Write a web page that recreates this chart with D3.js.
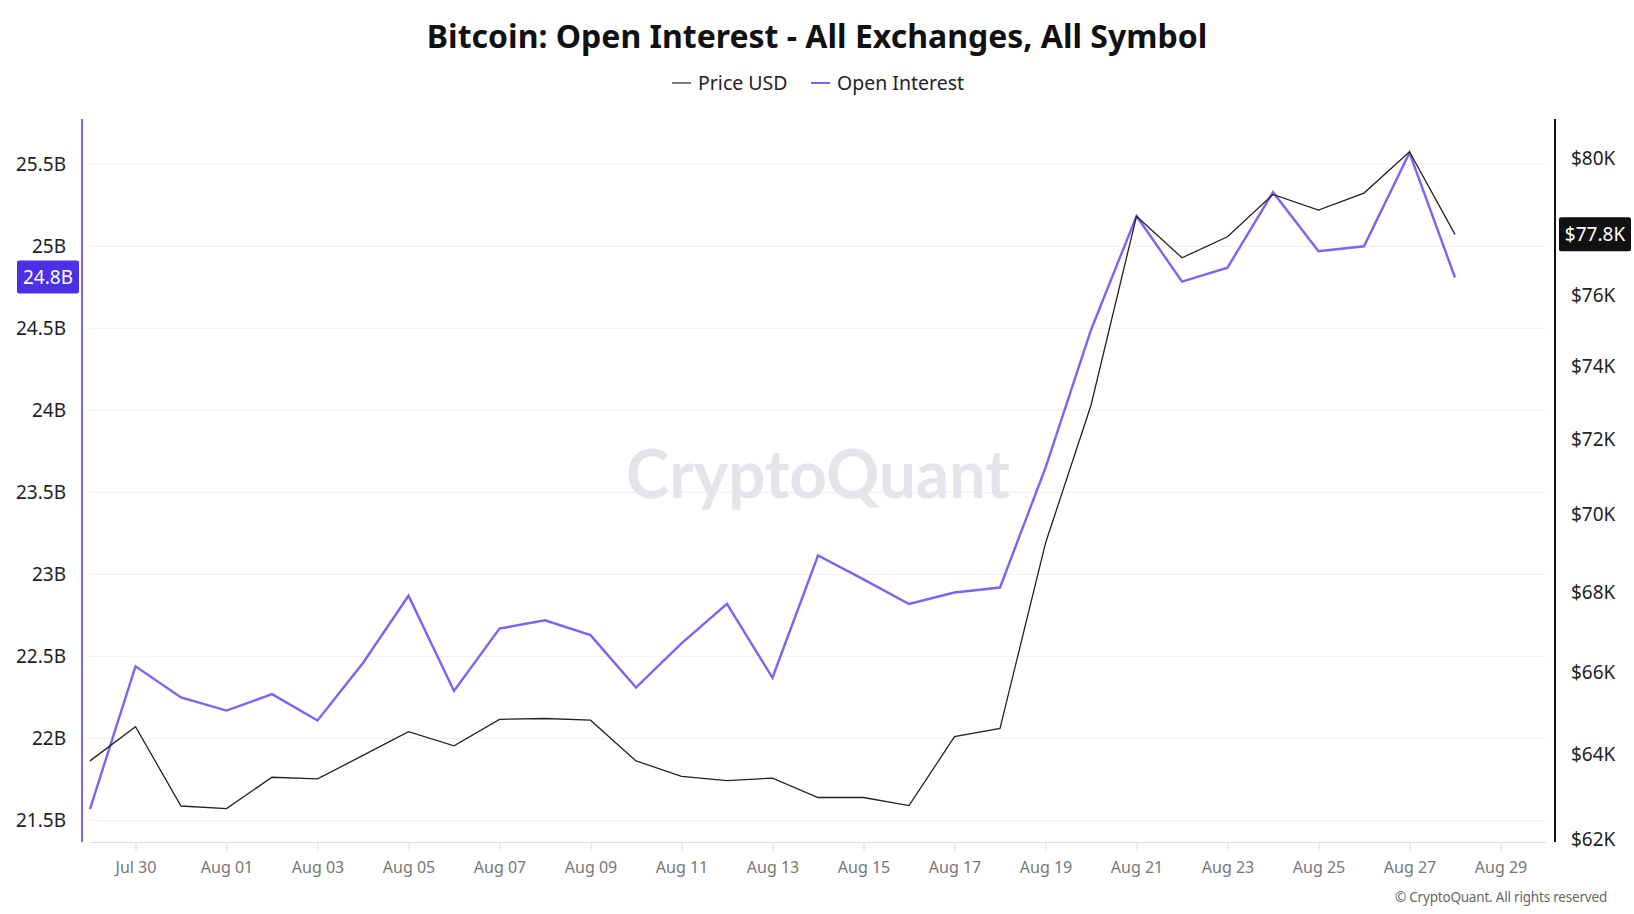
<!DOCTYPE html>
<html>
<head>
<meta charset="utf-8">
<script src="https://cdn.jsdelivr.net/npm/d3@7"></script>
<style>
  body { margin: 0; background: #fff; }
  svg { display: block; font-family: "Noto Sans", "Open Sans", sans-serif; }
</style>
</head>
<body>
<div id="chart"></div>
<script>
// Daily values, Jul 29 - Aug 28
const dates = [
  '2024-07-29', '2024-07-30', '2024-07-31', '2024-08-01', '2024-08-02', '2024-08-03',
  '2024-08-04', '2024-08-05', '2024-08-06', '2024-08-07', '2024-08-08', '2024-08-09',
  '2024-08-10', '2024-08-11', '2024-08-12', '2024-08-13', '2024-08-14', '2024-08-15',
  '2024-08-16', '2024-08-17', '2024-08-18', '2024-08-19', '2024-08-20', '2024-08-21',
  '2024-08-22', '2024-08-23', '2024-08-24', '2024-08-25', '2024-08-26', '2024-08-27',
  '2024-08-28'
]
// open interest, billions USD
const openInterest = [
  21.57, 22.44, 22.25, 22.17, 22.27, 22.11, 22.46, 22.87, 22.29, 22.67, 22.72,
  22.63, 22.31, 22.58, 22.82, 22.37, 23.115, 22.97, 22.82, 22.89, 22.92,
  23.65, 24.49, 25.185, 24.785, 24.87, 25.33, 24.97, 25.0, 25.57, 24.81
]
// price, thousands USD
const priceUsd = [
  63.84, 64.66, 62.77, 62.71, 63.45, 63.41, 63.97, 64.54, 64.20, 64.84, 64.86,
  64.82, 63.84, 63.47, 63.37, 63.43, 62.97, 62.97, 62.78, 64.42, 64.62,
  69.26, 72.93, 78.28, 77.07, 77.68, 78.92, 78.46, 78.96, 80.19, 77.75
]
const oiTicks = [21.5, 22, 22.5, 23, 23.5, 24, 24.5, 25, 25.5]
const priceTicks = [62, 64, 66, 68, 70, 72, 74, 76, 78, 80]

const width = 1634
const height = 914
const plot = { left: 90, right: 1546, top: 119, bottom: 842 }
const purple = '#7766f4'

const parse = d3.utcParse('%Y-%m-%d')
const rows = dates.map((d, i) => ({ date: parse(d), oi: openInterest[i], price: priceUsd[i] }))
const last = rows[rows.length - 1]

const x = d3.scaleUtc()
  .domain([parse('2024-07-29'), parse('2024-08-30')])
  .range([plot.left, plot.right])

const yOi = d3.scaleLinear()
  .domain([21.369, 25.776])
  .range([plot.bottom, plot.top])

const yPrice = d3.scaleLog()
  .domain([61.93, 81.18])
  .range([plot.bottom, plot.top])

const svg = d3.select('#chart').append('svg')
  .attr('width', width)
  .attr('height', height)

// Title + legend
svg.append('text')
  .attr('x', width / 2)
  .attr('y', 48)
  .attr('text-anchor', 'middle')
  .attr('font-size', '32px')
  .attr('font-weight', 700)
  .attr('fill', '#111')
  .text('Bitcoin: Open Interest - All Exchanges, All Symbol')

const legend = svg.append('g').attr('transform', 'translate(672, 83)')
const legendItems = [
  { label: 'Price USD', color: '#333', dx: 0 },
  { label: 'Open Interest', color: purple, dx: 139 }
]
legendItems.forEach(item => {
  const g = legend.append('g').attr('transform', `translate(${item.dx}, 0)`)
  g.append('line').attr('x1', 0).attr('x2', 19)
    .attr('stroke', item.color).attr('stroke-width', item.color === purple ? 2 : 1.3)
  g.append('text').attr('x', 26).attr('dy', '0.35em')
    .attr('font-size', '19.5px').attr('fill', '#222').text(item.label)
})

// Gridlines
svg.append('g')
  .selectAll('line')
  .data(oiTicks)
  .join('line')
  .attr('x1', plot.left).attr('x2', plot.right)
  .attr('y1', d => yOi(d)).attr('y2', d => yOi(d))
  .attr('stroke', '#f1f1f3')

// Watermark
svg.append('text')
  .attr('x', 818)
  .attr('y', 498)
  .attr('text-anchor', 'middle')
  .attr('font-family', 'Lato, "Noto Sans", sans-serif')
  .attr('font-size', '66px')
  .attr('font-weight', 700)
  .attr('fill', '#e4e4ea')
  .attr('textLength', 384)
  .attr('lengthAdjust', 'spacingAndGlyphs')
  .text('CryptoQuant')

// X axis
const xAxis = d3.axisBottom(x)
  .tickValues(d3.utcDay.range(parse('2024-07-30'), parse('2024-08-30'), 2))
  .tickFormat(d3.utcFormat('%b %d'))
  .tickSize(9)
  .tickPadding(11)

const gx = svg.append('g')
  .attr('transform', `translate(0, ${plot.bottom})`)
  .call(xAxis)
gx.select('.domain').attr('stroke', '#dddce8').attr('d', `M${plot.left},0.5H${plot.right}`)
gx.selectAll('.tick line').attr('stroke', '#dddce8')
gx.selectAll('.tick text')
  .attr('font-size', '16px')
  .attr('font-family', '"Noto Sans", sans-serif')
  .attr('fill', '#777')

// Left axis (open interest)
const gl = svg.append('g').attr('transform', 'translate(82, 0)')
gl.append('line')
  .attr('y1', plot.top).attr('y2', plot.bottom)
  .attr('stroke', purple).attr('stroke-width', 2)
gl.selectAll('.tick-label')
  .data(oiTicks)
  .join('text')
  .attr('class', 'tick-label')
  .attr('x', -16)
  .attr('y', d => yOi(d))
  .attr('dy', '0.35em')
  .attr('text-anchor', 'end')
  .attr('font-size', '19px')
  .attr('fill', '#222')
  .text(d => d + 'B')

// Right axis (price); the tick under the last-value badge is hidden, as in the source
const gr = svg.append('g').attr('transform', 'translate(1555, 0)')
gr.append('line')
  .attr('y1', plot.top).attr('y2', plot.bottom)
  .attr('stroke', '#111').attr('stroke-width', 2)
gr.selectAll('.tick-label')
  .data(priceTicks.filter(d => Math.abs(yPrice(d) - yPrice(last.price)) > 22))
  .join('text')
  .attr('class', 'tick-label')
  .attr('x', 16)
  .attr('y', d => yPrice(d))
  .attr('dy', '0.35em')
  .attr('font-size', '19px')
  .attr('fill', '#222')
  .text(d => '$' + d + 'K')

// Lines
const oiLine = d3.line().x(d => x(d.date)).y(d => yOi(d.oi))
const priceLine = d3.line().x(d => x(d.date)).y(d => yPrice(d.price))

svg.append('path')
  .datum(rows)
  .attr('fill', 'none')
  .attr('stroke', purple)
  .attr('stroke-width', 2.4)
  .attr('d', oiLine)

svg.append('path')
  .datum(rows)
  .attr('fill', 'none')
  .attr('stroke', '#222')
  .attr('stroke-width', 1.3)
  .attr('d', priceLine)

// Last value badges
const oiBadge = svg.append('g').attr('transform', `translate(17, ${yOi(last.oi)})`)
oiBadge.append('rect')
  .attr('x', 0).attr('y', -17).attr('width', 62).attr('height', 33).attr('rx', 2)
  .attr('fill', '#4a30e6')
oiBadge.append('text')
  .attr('x', 31).attr('dy', '0.35em').attr('text-anchor', 'middle')
  .attr('font-size', '19px').attr('fill', '#fff')
  .text(d3.format('.1f')(last.oi) + 'B')

const priceBadge = svg.append('g').attr('transform', `translate(1559, ${yPrice(last.price)})`)
priceBadge.append('rect')
  .attr('x', 0).attr('y', -17).attr('width', 72).attr('height', 34).attr('rx', 2)
  .attr('fill', '#111')
priceBadge.append('text')
  .attr('x', 36).attr('dy', '0.35em').attr('text-anchor', 'middle')
  .attr('font-size', '19px').attr('fill', '#fff')
  .text('$' + d3.format('.1f')(last.price) + 'K')

// Footer
svg.append('text')
  .attr('x', 1607)
  .attr('y', 902)
  .attr('text-anchor', 'end')
  .attr('font-size', '13.5px')
  .attr('fill', '#666')
  .attr('letter-spacing', '-0.2px')
  .text('© CryptoQuant. All rights reserved')
</script>
</body>
</html>
